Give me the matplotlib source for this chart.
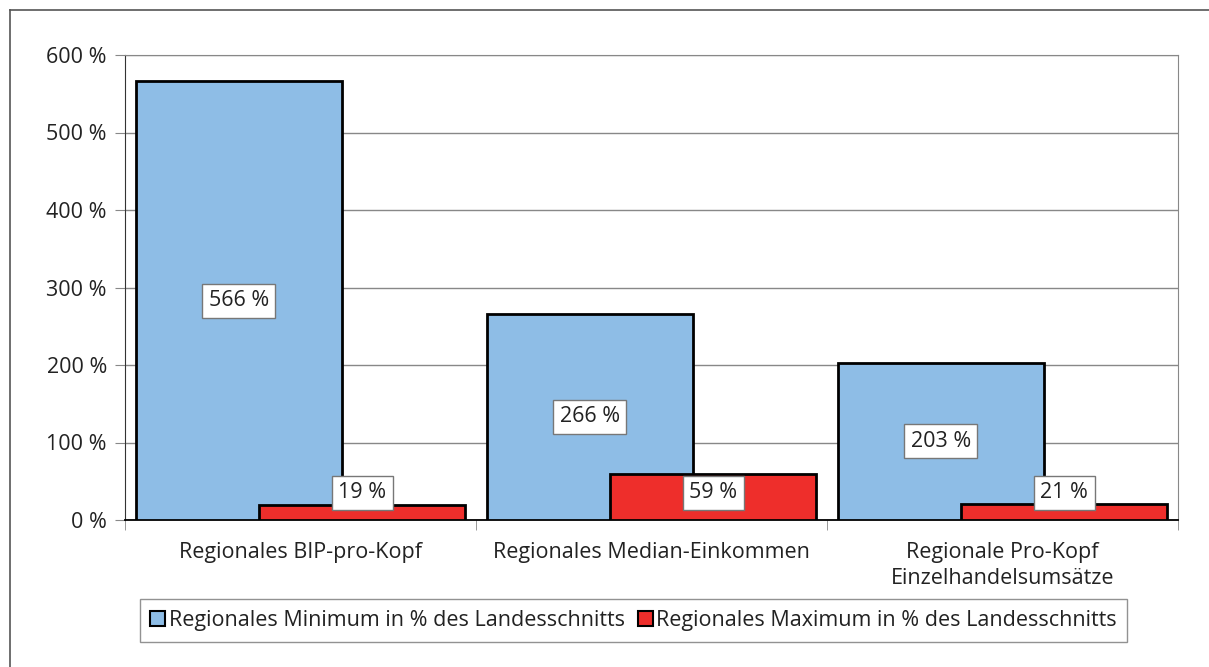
import matplotlib.pyplot as plt
from matplotlib.lines import Line2D
import numpy as np

plt.rcParams['font.family'] = ['Open Sans', 'DejaVu Sans']

categories = ['Regionales BIP-pro-Kopf', 'Regionales Median-Einkommen',
              'Regionale Pro-Kopf\nEinzelhandelsumsätze']
minimum = [566, 266, 203]
maximum = [19, 59, 21]
series_names = ['Regionales Minimum in % des Landesschnitts',
                'Regionales Maximum in % des Landesschnitts']
yticks = [0, 100, 200, 300, 400, 500, 600]

W, H = 1209, 667
fs = 15.5
fig = plt.figure(figsize=(W / 100, H / 100), dpi=100)
ax = fig.add_axes([125 / W, 1 - 520 / H, (1178 - 125) / W, (520 - 55) / H])

# outer frame (only top and left visible in the crop)
fig.add_artist(Line2D([10 / W, 10 / W], [0, 1 - 10 / H], color='#555555', lw=1.2))
fig.add_artist(Line2D([10 / W, 1], [1 - 10 / H, 1 - 10 / H], color='#555555', lw=1.2))

x = np.arange(len(categories))
width = 0.587
off = 0.176
blue = '#8EBDE6'
red = '#EE2E2B'

ax.bar(x - off, minimum, width, color=blue, edgecolor='black', linewidth=2, zorder=3)
ax.bar(x + off, maximum, width, color=red, edgecolor='black', linewidth=2, zorder=4)

box = dict(boxstyle='square,pad=0.3', facecolor='white', edgecolor='#777777', linewidth=1)
for xi, v in zip(x, minimum):
    ax.text(xi - off, v / 2, f'{v} %', ha='center', va='center', fontsize=fs,
            color='#222222', bbox=box, zorder=6)
for xi, v in zip(x, maximum):
    ax.text(xi + off, max(v / 2, 35), f'{v} %', ha='center', va='center', fontsize=fs,
            color='#222222', bbox=box, zorder=6)

ax.set_xlim(-0.5, 2.5)
ax.set_ylim(0, 600)
ax.set_yticks(yticks)
ax.set_yticklabels([f'{t} %' for t in yticks], fontsize=fs, color='#222222')
ax.yaxis.grid(True, color='#888888', linewidth=1, zorder=0)
ax.tick_params(axis='y', length=7, color='#888888', pad=6)

ax.set_xticks(x)
ax.set_xticklabels(categories, fontsize=fs, color='#222222', linespacing=1.3)
ax.set_xticks([-0.5, 0.5, 1.5, 2.5], minor=True)
ax.tick_params(axis='x', which='major', length=0, pad=16)
ax.tick_params(axis='x', which='minor', length=7, color='#888888')

for s in ['top', 'right']:
    ax.spines[s].set_color('#888888')
ax.spines['left'].set_color('#333333')
ax.spines['bottom'].set_color('black')
ax.spines['bottom'].set_linewidth(1.3)

handles = [plt.Rectangle((0, 0), 1, 1, facecolor=blue, edgecolor='black', linewidth=1.5),
           plt.Rectangle((0, 0), 1, 1, facecolor=red, edgecolor='black', linewidth=1.5)]
leg = fig.legend(handles, series_names, loc='center', ncol=2,
                 bbox_to_anchor=((135 + 1132) / 2 / W, 1 - 620.5 / H),
                 fontsize=fs, frameon=True, fancybox=False, edgecolor='#777777',
                 handlelength=0.7, handleheight=0.7, handletextpad=0.15,
                 columnspacing=0.6, borderpad=0.5)
leg.get_frame().set_linewidth(1)
for t in leg.get_texts():
    t.set_color('#222222')

fig.savefig('out.png', dpi=100)
